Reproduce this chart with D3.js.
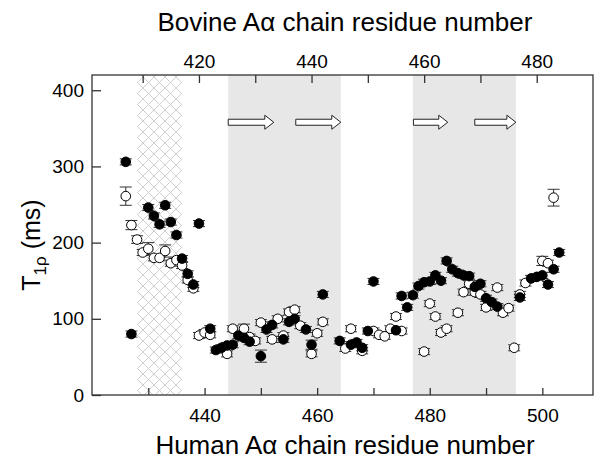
<!DOCTYPE html>
<html>
<head>
<meta charset="utf-8">
<script src="https://cdn.jsdelivr.net/npm/d3@7"></script>
<style>
  body { margin: 0; background: #fff; }
  svg { display: block; font-family: "Liberation Sans", Arial, sans-serif; }
</style>
</head>
<body>
<script>
// filled circles
const filledRes = [426, 427, 430, 431, 432, 433, 434, 435, 436, 437, 438, 439, 441, 442, 443, 444, 445, 446, 447, 448, 450, 451, 452, 454, 455, 456, 458, 459, 461, 464, 466, 467, 468, 469, 470, 474, 475, 476, 477, 478, 479, 480, 481, 482, 483, 484, 485, 486, 487, 488, 489, 490, 491, 492, 496, 498, 499, 500, 501, 502, 503];
const filledT1 = [306, 80, 246, 235, 224, 249, 227, 210, 179, 159, 145, 225, 87, 59, 62, 65, 66, 78, 75, 70, 51, 86, 92, 73, 96, 100, 86, 66, 132, 71, 66, 69, 62, 84, 149, 85, 130, 115, 131, 143, 148, 149, 157, 150, 176, 165, 160, 157, 156, 142, 146, 127, 122, 116, 128, 153, 155, 157, 145, 165, 187];
const filledErr = [4, 4, 4, 4, 4, 4, 4, 4, 4, 4, 4, 4, 4, 4, 4, 4, 4, 4, 4, 4, 8, 4, 4, 4, 4, 4, 4, 6, 4, 4, 4, 4, 4, 4, 4, 4, 4, 4, 4, 4, 4, 4, 4, 4, 4, 4, 4, 4, 4, 4, 4, 4, 4, 4, 4, 4, 4, 4, 4, 4, 4];

// open circles
const openRes = [426, 427, 428, 429, 430, 431, 432, 433, 434, 435, 436, 437, 438, 439, 440, 441, 444, 445, 447, 448, 449, 450, 452, 453, 454, 455, 456, 457, 459, 460, 461, 465, 466, 468, 470, 471, 472, 473, 474, 475, 479, 480, 481, 482, 483, 485, 486, 487, 488, 489, 490, 492, 493, 494, 495, 496, 497, 500, 501, 502];
const openT1 = [261, 223, 204, 187, 192, 180, 180, 189, 173, 177, 170, 151, 140, 78, 82, 79, 54, 87, 87, 76, 71, 95, 73, 100, 78, 109, 112, 91, 54, 81, 96, 61, 87, 58, 84, 79, 77, 87, 103, 84, 57, 120, 103, 82, 87, 108, 135, 146, 135, 132, 115, 141, 108, 114, 62, 132, 147, 176, 173, 259];
const openErr = [12, 6, 5, 4, 8, 4, 4, 8, 4, 4, 4, 4, 4, 4, 4, 4, 4, 4, 6, 4, 4, 4, 4, 4, 4, 4, 4, 4, 4, 4, 4, 4, 4, 4, 4, 4, 4, 4, 4, 4, 4, 4, 4, 4, 4, 4, 4, 4, 4, 4, 4, 4, 4, 4, 4, 4, 4, 6, 4, 11];

// shaded residue ranges (human numbering) and strand arrows
const hatchRange = [428, 436];
const grayRanges = [[444.2, 464.2], [477, 495.3]];
const arrowStart = [444.2, 456.2, 477.1, 488];
const arrowEnd = [452.3, 464.2, 483.2, 495.3];
const arrowLevel = 358;

const bottomTicks = [430, 440, 450, 460, 470, 480, 490, 500];
const bottomLabels = [440, 460, 480, 500];
const topTicks = [410, 420, 430, 440, 450, 460, 470, 480];
const topLabels = [420, 440, 460, 480];
const yTicks = [0, 100, 200, 300, 400];
const bovineOffset = 19;

const W = 601, H = 462;
const m = { top: 75, right: 8, bottom: 67, left: 92 };

const main = () => {
  const svg = d3.select("body").append("svg").attr("width", W).attr("height", H);

  const x = d3.scaleLinear().domain([420, 509]).range([m.left, W - m.right]);
  const y = d3.scaleLinear().domain([0, 420]).range([H - m.bottom, m.top]);

  const defs = svg.append("defs");
  const pat = defs.append("pattern")
    .attr("id", "hatch")
    .attr("patternUnits", "userSpaceOnUse")
    .attr("width", 11).attr("height", 11);
  pat.append("rect").attr("width", 11).attr("height", 11).attr("fill", "#fff");
  pat.append("path")
    .attr("d", "M0,0 L11,11 M11,0 L0,11 M-1,10 L1,12 M10,-1 L12,1 M-1,1 L1,-1 M10,12 L12,10")
    .attr("stroke", "#cfcfcf").attr("stroke-width", 1).attr("fill", "none");

  // shaded regions
  svg.append("g")
    .selectAll("rect")
    .data(grayRanges)
    .join("rect")
    .attr("x", (d) => x(d[0]))
    .attr("width", (d) => x(d[1]) - x(d[0]))
    .attr("y", m.top)
    .attr("height", H - m.bottom - m.top)
    .attr("fill", "#e7e7e7");

  svg.append("rect")
    .attr("x", x(hatchRange[0]))
    .attr("width", x(hatchRange[1]) - x(hatchRange[0]))
    .attr("y", m.top)
    .attr("height", H - m.bottom - m.top)
    .attr("fill", "url(#hatch)");

  // strand arrows
  const ay = y(arrowLevel);
  svg.append("g")
    .attr("fill", "#fff")
    .attr("stroke", "#222")
    .attr("stroke-width", 1)
    .selectAll("path")
    .data(d3.range(arrowStart.length))
    .join("path")
    .attr("d", (i) => {
      const x0 = x(arrowStart[i]), x1 = x(arrowEnd[i]), hx = x1 - 9;
      return `M${x0},${ay - 3} L${hx},${ay - 3} L${hx},${ay - 7} L${x1},${ay}
              L${hx},${ay + 7} L${hx},${ay + 3} L${x0},${ay + 3} Z`;
    });

  const points = [];
  openRes.forEach((r, i) => points.push({ r, v: openT1[i], e: openErr[i], open: true }));
  filledRes.forEach((r, i) => points.push({ r, v: filledT1[i], e: filledErr[i], open: false }));

  // error bars
  const eb = svg.append("g").attr("stroke", "#333").attr("stroke-width", 1).attr("fill", "none");
  eb.selectAll("path")
    .data(points)
    .join("path")
    .attr("d", (d) => {
      const cx = x(d.r), y0 = y(d.v - d.e), y1 = y(d.v + d.e);
      return `M${cx},${y0} L${cx},${y1} M${cx - 6},${y0} L${cx + 6},${y0} M${cx - 6},${y1} L${cx + 6},${y1}`;
    });

  // markers: open first, filled on top
  svg.append("g")
    .selectAll("circle")
    .data(points)
    .join("circle")
    .attr("cx", (d) => x(d.r))
    .attr("cy", (d) => y(d.v))
    .attr("r", 4.8)
    .attr("fill", (d) => (d.open ? "#fff" : "#000"))
    .attr("stroke", "#000")
    .attr("stroke-width", 1);

  // frame
  svg.append("rect")
    .attr("x", m.left).attr("y", m.top)
    .attr("width", W - m.left - m.right)
    .attr("height", H - m.top - m.bottom)
    .attr("fill", "none")
    .attr("stroke", "#333")
    .attr("stroke-width", 1.3);

  const tickStyle = (g) => {
    g.select(".domain").remove();
    g.selectAll(".tick line").attr("stroke", "#333").attr("stroke-width", 1.3);
    g.selectAll(".tick text").attr("fill", "#000").attr("font-size", 19)
      .attr("font-family", "'Liberation Sans', Arial, sans-serif");
  };

  // bottom axis (ticks inward)
  svg.append("g")
    .attr("transform", `translate(0,${H - m.bottom})`)
    .call(d3.axisBottom(x).tickValues(bottomTicks).tickSizeInner(-7).tickSizeOuter(0)
      .tickPadding(14).tickFormat((d) => (bottomLabels.includes(d) ? d : "")))
    .call(tickStyle);

  // top axis in bovine numbering
  svg.append("g")
    .attr("transform", `translate(0,${m.top})`)
    .call(d3.axisTop(x).tickValues(topTicks.map((d) => d + bovineOffset)).tickSizeInner(-8).tickSizeOuter(0)
      .tickPadding(7).tickFormat((d) => (topLabels.includes(d - bovineOffset) ? d - bovineOffset : "")))
    .call(tickStyle);

  // left axis
  svg.append("g")
    .attr("transform", `translate(${m.left},0)`)
    .call(d3.axisLeft(y).tickValues(yTicks).tickSizeInner(-9).tickSizeOuter(0).tickPadding(8))
    .call(tickStyle);

  // titles
  svg.append("text")
    .attr("x", 345).attr("y", 31)
    .attr("text-anchor", "middle")
    .attr("font-size", 26)
    .text("Bovine Aα chain residue number");

  svg.append("text")
    .attr("x", 345).attr("y", 454)
    .attr("text-anchor", "middle")
    .attr("font-size", 26)
    .text("Human Aα chain residue number");

  const yl = svg.append("text")
    .attr("transform", `translate(40,245) rotate(-90)`)
    .attr("text-anchor", "middle")
    .attr("font-size", 25);
  yl.append("tspan").text("T");
  yl.append("tspan").attr("font-size", 17).attr("dy", 6).text("1ρ");
  yl.append("tspan").attr("dy", -6).text(" (ms)");
};

document.addEventListener("DOMContentLoaded", main);
</script>
</body>
</html>
